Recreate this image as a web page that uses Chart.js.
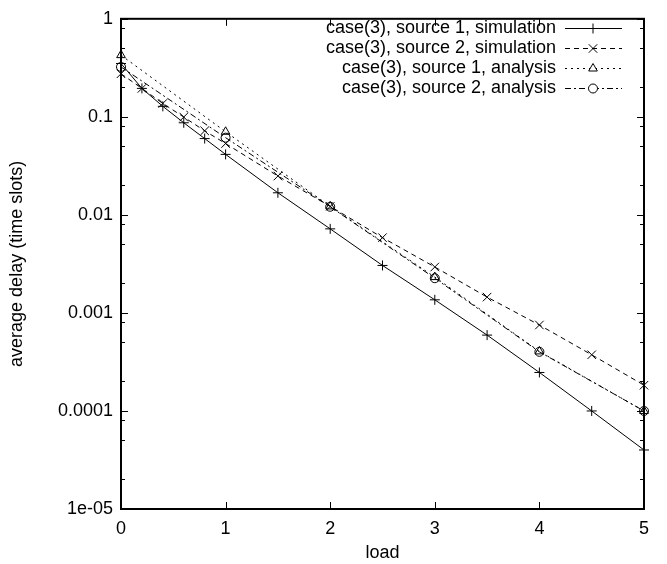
<!DOCTYPE html>
<html>
<head>
<meta charset="utf-8">
<script src="https://cdn.jsdelivr.net/npm/chart.js@4/dist/chart.umd.min.js"></script>
<style>
    html, body { margin: 0; padding: 0; background: #fff; }
    #wrap { width: 667px; height: 564px; }
</style>
</head>
<body>
<div id="wrap"><canvas id="delay-chart" width="667" height="564"></canvas></div>
<script>
// load values (x) for simulation and analysis runs
const simLoads = [0, 0.2, 0.4, 0.6, 0.8, 1, 1.5, 2, 2.5, 3, 3.5, 4, 4.5, 5];
const anaLoads = [0, 1, 2, 3, 4, 5];

// average delay (time slots)
const src1Sim = [0.35, 0.195, 0.128, 0.087, 0.060, 0.0414, 0.0168, 0.0072, 0.00305, 0.00136, 0.000594, 0.000247, 0.0001, 0.00004];
const src2Sim = [0.275, 0.195, 0.137, 0.0995, 0.072, 0.0534, 0.0249, 0.0122, 0.00586, 0.00294, 0.00145, 0.000753, 0.000374, 0.000183];
const src1Ana = [0.426, 0.0704, 0.0122, 0.00232, 0.000405, 0.0001];
const src2Ana = [0.323, 0.0613, 0.0121, 0.00226, 0.000401, 0.0001];

const seriesLabels = [
    'case(3), source 1, simulation',
    'case(3), source 2, simulation',
    'case(3), source 1, analysis',
    'case(3), source 2, analysis'
];

// axis ticks
const yTickValues = [1e-5, 1e-4, 1e-3, 1e-2, 1e-1, 1];
const yTickLabels = ['1e-05', '0.0001', '0.001', '0.01', '0.1', '1'];
const yMinorSteps = [2, 5, 8];
const xTickValues = [0, 1, 2, 3, 4, 5];

const FONT = "'Liberation Sans', Arial, sans-serif";

function toPoints(xs, ys) {
    return xs.map((x, i) => ({ x: x, y: ys[i] }));
}

function makeSet(label, xs, ys, style, radius, dash) {
    return {
        label: label,
        data: toPoints(xs, ys),
        borderColor: '#000',
        backgroundColor: '#fff',
        borderWidth: 1,
        borderDash: dash,
        pointStyle: style,
        pointRadius: radius,
        pointBorderColor: '#000',
        pointBackgroundColor: 'rgba(0,0,0,0)',
        pointBorderWidth: 1,
        tension: 0,
        fill: false,
        clip: false
    };
}

const datasets = [
    makeSet(seriesLabels[0], simLoads, src1Sim, 'cross', 5, []),
    makeSet(seriesLabels[1], simLoads, src2Sim, 'crossRot', 6, [5, 4]),
    makeSet(seriesLabels[2], anaLoads, src1Ana, 'triangle', 5, [2, 4]),
    makeSet(seriesLabels[3], anaLoads, src2Ana, 'circle', 4.5, [6, 3, 2, 3])
];

// frame, inward ticks and gnuplot-like legend
const framePlugin = {
    id: 'frame',
    afterDraw(chart) {
        const ctx = chart.ctx;
        const a = chart.chartArea;
        const xs = chart.scales.x;
        const ys = chart.scales.y;
        ctx.save();
        ctx.strokeStyle = '#000';

        // ticks
        ctx.lineWidth = 1;
        ctx.beginPath();
        xTickValues.forEach(v => {
            const px = Math.round(xs.getPixelForValue(v)) + 0.5;
            ctx.moveTo(px, a.bottom); ctx.lineTo(px, a.bottom - 7);
            ctx.moveTo(px, a.top); ctx.lineTo(px, a.top + 7);
        });
        yTickValues.forEach(v => {
            const py = Math.round(ys.getPixelForValue(v)) + 0.5;
            ctx.moveTo(a.left, py); ctx.lineTo(a.left + 7, py);
            ctx.moveTo(a.right, py); ctx.lineTo(a.right - 7, py);
            if (v < 1) {
                yMinorSteps.forEach(m => {
                    const my = Math.round(ys.getPixelForValue(v * m)) + 0.5;
                    ctx.moveTo(a.left, my); ctx.lineTo(a.left + 4, my);
                    ctx.moveTo(a.right, my); ctx.lineTo(a.right - 4, my);
                });
            }
        });
        ctx.stroke();

        // border
        ctx.lineWidth = 2;
        ctx.strokeRect(a.left, a.top, a.right - a.left, a.bottom - a.top);

        // legend
        ctx.font = '18px ' + FONT;
        ctx.textAlign = 'right';
        ctx.textBaseline = 'middle';
        chart.data.datasets.forEach((ds, i) => {
            const ly = 28 + i * 20;
            ctx.fillStyle = '#000';
            ctx.fillText(ds.label, 556, ly);
            ctx.lineWidth = 1;
            ctx.setLineDash(ds.borderDash);
            ctx.beginPath();
            ctx.moveTo(565, ly + 0.5);
            ctx.lineTo(622, ly + 0.5);
            ctx.stroke();
            ctx.setLineDash([]);
            ctx.fillStyle = '#fff';
            Chart.helpers.drawPoint(ctx, {
                pointStyle: ds.pointStyle,
                radius: ds.pointRadius,
                rotation: 0,
                borderWidth: 1
            }, 593, ly + 0.5);
        });
        ctx.restore();
    }
};

const chartCtx = document.getElementById('delay-chart');
new Chart(chartCtx, {
    type: 'line',
    data: { datasets: datasets },
    options: {
        responsive: false,
        devicePixelRatio: 1,
        animation: false,
        layout: { padding: { top: 10, right: 23, left: 0, bottom: 0 } },
        plugins: {
            legend: { display: false },
            tooltip: { enabled: false }
        },
        scales: {
            x: {
                type: 'linear',
                min: 0,
                max: 5,
                grid: { display: false, drawTicks: false },
                border: { display: false },
                afterBuildTicks: (scale) => {
                    scale.ticks = xTickValues.map(v => ({ value: v }));
                },
                afterFit: (scale) => { scale.height = 55; },
                ticks: {
                    color: '#000',
                    font: { family: FONT, size: 18 },
                    padding: 9,
                    maxRotation: 0,
                    autoSkip: false
                },
                title: {
                    display: true,
                    text: 'load',
                    color: '#000',
                    font: { family: FONT, size: 18 },
                    padding: { top: 0, bottom: 0 }
                }
            },
            y: {
                type: 'logarithmic',
                min: 1e-5,
                max: 1,
                grid: { display: false, drawTicks: false },
                border: { display: false },
                afterBuildTicks: (scale) => {
                    scale.ticks = yTickValues.map(v => ({ value: v }));
                },
                afterFit: (scale) => { scale.width = 121; },
                ticks: {
                    color: '#000',
                    font: { family: FONT, size: 18 },
                    padding: 8,
                    autoSkip: false,
                    callback: (v) => yTickLabels[yTickValues.indexOf(v)]
                },
                title: {
                    display: true,
                    text: 'average delay (time slots)',
                    color: '#000',
                    font: { family: FONT, size: 18 },
                    padding: { top: 6, bottom: 0 }
                }
            }
        }
    },
    plugins: [framePlugin]
});
</script>
</body>
</html>
